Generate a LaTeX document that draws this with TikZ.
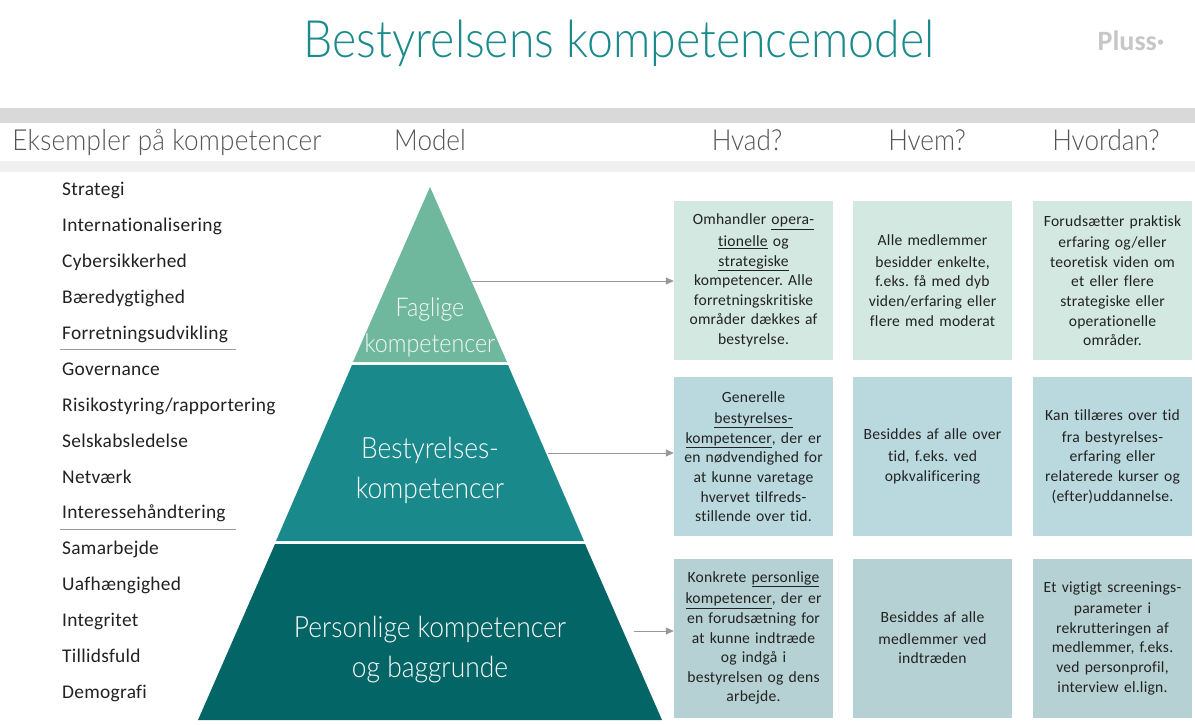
\documentclass[tikz,border=0pt]{standalone}
\usepackage{fontspec}
\setmainfont[LetterSpace=1.5,Ligatures={NoCommon}]{Carlito}
\newfontfamily\thinfont[FakeStretch=0.9,Ligatures={NoCommon}]{Lato Light}
\newfontfamily\thinwide[FakeStretch=0.9,LetterSpace=0.8,Ligatures={NoCommon}]{Lato Light}
\newfontfamily\logofont{Carlito}
\usetikzlibrary{arrows.meta}
\frenchspacing
\definecolor{ctop}{HTML}{6FB89D}
\definecolor{cmid}{HTML}{1A898C}
\definecolor{cbot}{HTML}{046567}
\definecolor{btop}{HTML}{D2E8E0}
\definecolor{bmid}{HTML}{B9D9DE}
\definecolor{bbot}{HTML}{B6D1D3}
\definecolor{ctitle}{HTML}{1A8A8C}
\definecolor{chead}{HTML}{555555}
\definecolor{ctext}{HTML}{222222}
\definecolor{cline}{HTML}{999999}
\tikzset{
  x=1pt,y=-1pt,
  cell/.style={minimum width=159pt,minimum height=159pt,inner sep=0pt,text width=152pt,align=center,text=ctext,
    font=\frenchspacing\fontsize{15.6}{19.6}\selectfont,execute at begin node=\vspace*{2pt}},
  head/.style={inner sep=0pt,anchor=base,text=chead,font=\thinfont\fontsize{29}{32}\selectfont},
  headwide/.style={inner sep=0pt,anchor=base,text=chead,font=\thinwide\fontsize{29}{32}\selectfont},
  item/.style={inner sep=0pt,anchor=base west,text=ctext,font=\fontsize{19.4}{22}\selectfont},
  lvl/.style={inner sep=0pt,align=center,text=white,font=\thinfont\fontsize{29.3}{40}\selectfont},
  lvlsmall/.style={inner sep=0pt,align=center,text=white!92!ctop,font=\thinfont\fontsize{25.8}{36}\selectfont},
  link/.style={draw=cline,line width=0.7pt,-{Triangle[length=8pt,width=7pt]}},
  rule/.style={draw=cline,line width=0.7pt},
}
\begin{document}
\begin{tikzpicture}
\useasboundingbox (0,0) rectangle (1195,725);
\fill[white] (0,0) rectangle (1195,725);
\node[inner sep=0pt,anchor=base,text=ctitle,font=\thinfont\fontsize{51.5}{56}\selectfont] (title) at (619,58) {Bestyrelsens kompetencemodel};
\node[inner sep=0pt,text=black!22,font=\logofont\bfseries\fontsize{28}{30}\selectfont] (logo) at (1131,41) {Pluss·};
\fill[black!15] (0,108) rectangle (1195,123);
\fill[black!6] (0,161) rectangle (1195,172);
\node[headwide] (h1) at (167,150) {Eksempler på kompetencer};
\node[head] (h2) at (430,150) {Model};
\node[head] (h3) at (747,150) {Hvad?};
\node[head] (h4) at (927,150) {Hvem?};
\node[head] (h5) at (1106,150) {Hvordan?};
% list
\foreach \n/\t [count=\i from 0] in {a/Strategi,b/Internationalisering,c/Cybersikkerhed,d/Bæredygtighed,e/Forretningsudvikling,f/Governance,g/Risikostyring\slash rapportering,h/Selskabsledelse,i/Netværk,j/Interessehåndtering,k/Samarbejde,l/Uafhængighed,m/Integritet,n/Tillidsfuld,o/Demografi}
  \node[item] (li\n) at (62,{195.6+35.93*\i}) {\t};
\coordinate (r1a) at (60,349); \coordinate (r1b) at (236,349);
\coordinate (r2a) at (60,529); \coordinate (r2b) at (236,529);
\draw[rule] (r1a) -- (r1b);
\draw[rule] (r2a) -- (r2b);
% pyramid
\fill[ctop] (430,187) -- (507,362) -- (353,362) -- cycle;
\fill[cmid] (352,365) -- (508,365) -- (584,541) -- (276,541) -- cycle;
\fill[cbot] (275,544) -- (585,544) -- (662,720) -- (198,720) -- cycle;
\node[lvlsmall] (l1) at (430,327) {Faglige\\kompetencer};
\node[lvl] (l2) at (430,470.5) {Bestyrelses-\\kompetencer};
\node[lvl] (l3) at (430,649.5) {Personlige kompetencer\\og baggrunde};
% boxes
\node[cell,fill=btop] (a1) at (753.5,280.5) {Omhandler \underline{opera-}\\\underline{tionelle} og\\\underline{strategiske}\\kompetencer. Alle\\forretningskritiske\\områder dækkes af\\bestyrelse.};
\node[cell,fill=btop] (a2) at (932.5,280.5) {Alle medlemmer\\besidder enkelte,\\f.eks. få med dyb\\viden/erfaring eller\\flere med moderat};
\node[cell,fill=btop] (a3) at (1112.5,280.5) {Forudsætter praktisk\\erfaring og/eller\\teoretisk viden om\\et eller flere\\strategiske eller\\operationelle\\områder.};
\node[cell,fill=bmid] (b1) at (753.5,456.5) {Generelle\\\underline{bestyrelses-}\\\underline{kompetencer}, der er\\en nødvendighed for\\at kunne varetage\\hvervet tilfreds-\\stillende over tid.};
\node[cell,fill=bmid] (b2) at (932.5,456.5) {Besiddes af alle over\\tid, f.eks. ved\\opkvalificering};
\node[cell,fill=bmid] (b3) at (1112.5,456.5) {Kan tillæres over tid\\fra bestyrelses-\\erfaring eller\\relaterede kurser og\\(efter)uddannelse.};
\node[cell,fill=bbot] (c1) at (753.5,638) {Konkrete \underline{personlige}\\\underline{kompetencer}, der er\\en forudsætning for\\at kunne indtræde\\og indgå i\\bestyrelsen og dens\\arbejde.};
\node[cell,fill=bbot] (c2) at (932.5,638) {Besiddes af alle\\medlemmer ved\\indtræden};
\node[cell,fill=bbot] (c3) at (1112.5,638) {Et vigtigt screenings-\\parameter i\\rekrutteringen af\\medlemmer, f.eks.\\ved personprofil,\\interview el.lign.};
% connectors
\coordinate (s1) at (472,281);
\coordinate (s2) at (548,453);
\coordinate (s3) at (634,631);
\draw[link] (s1) -- (s1 -| a1.west);
\draw[link] (s2) -- (s2 -| b1.west);
\draw[link] (s3) -- (s3 -| c1.west);
\end{tikzpicture}
\end{document}
